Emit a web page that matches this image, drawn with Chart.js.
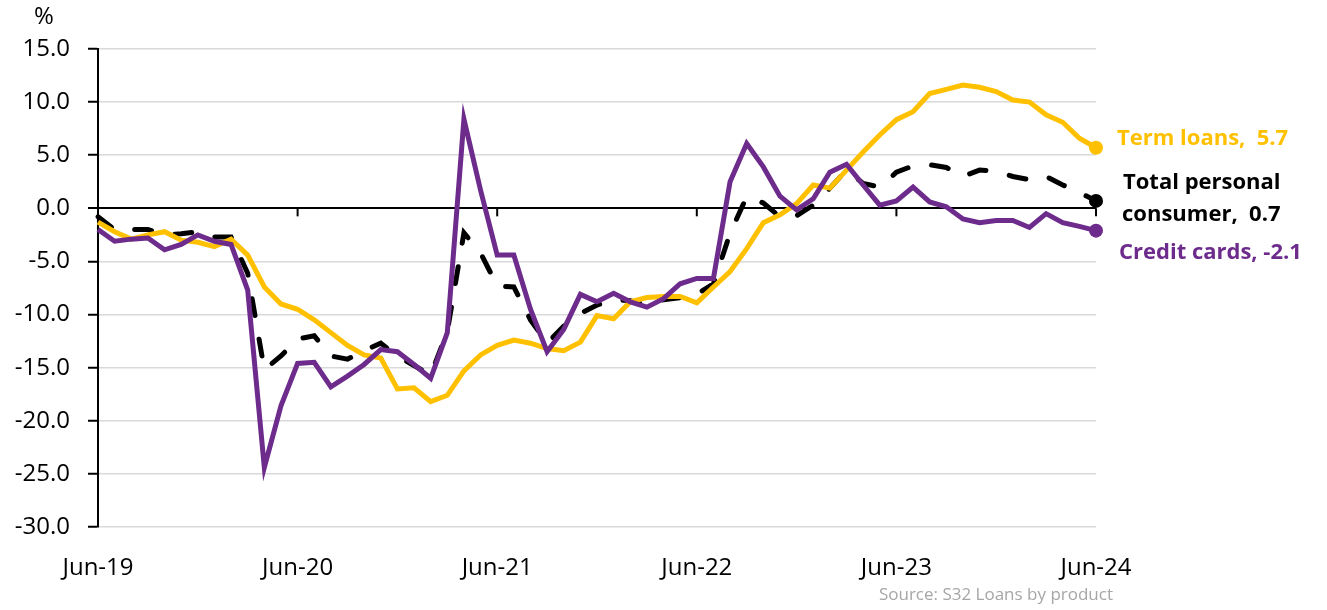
<!DOCTYPE html>
<html>
<head>
<meta charset="utf-8">
<script src="https://cdn.jsdelivr.net/npm/chart.js@4"></script>
<style>
  body { margin: 0; background: #fff; }
  #wrap { width: 1327px; height: 610px; }
</style>
</head>
<body>
<div id="wrap"><canvas id="loanChart" width="1327" height="610"></canvas></div>
<script>
// monthly growth, Jun-19 .. Jun-24
const monthNames = ["Jan", "Feb", "Mar", "Apr", "May", "Jun", "Jul", "Aug", "Sep", "Oct", "Nov", "Dec"];
const months = [];
for (let k = 0; k <= 60; k++) {
  const m = (5 + k) % 12;
  const yr = 19 + Math.floor((5 + k) / 12);
  months.push(monthNames[m] + "-" + yr);
}

const termLoans = [
  -1.3, -2.2, -2.9, -2.5, -2.2, -3.0, -3.2, -3.6, -2.9, -4.4,
  -7.4, -9.0, -9.5, -10.5, -11.7, -12.9, -13.8, -14.1, -17.0, -16.9,
  -18.2, -17.6, -15.3, -13.8, -12.9, -12.4, -12.7, -13.2, -13.4, -12.6,
  -10.1, -10.4, -8.8, -8.4, -8.3, -8.3, -8.9, -7.4, -5.95, -3.8,
  -1.35, -0.6, 0.45, 2.2, 1.9, 3.6, 5.3, 6.9, 8.35, 9.1,
  10.8, 11.2, 11.6, 11.4, 11.0, 10.2, 10.0, 8.8, 8.1, 6.6,
  5.7
];
const totalConsumer = [
  -0.8, -2.0, -2.0, -2.0, -2.5, -2.4, -2.2, -2.7, -2.7, -6.1,
  -15.2, -13.9, -12.3, -12.0, -13.9, -14.2, -13.4, -12.7, -13.9, -14.8,
  -15.7, -11.6, -2.3, -4.2, -7.3, -7.4, -10.5, -12.7, -11.1, -9.9,
  -9.1, -8.6, -8.7, -9.1, -8.6, -8.4, -8.1, -7.1, -2.35, 1.1,
  0.5, -0.8, -0.7, 0.3, 1.9, 3.6, 2.35, 2.0, 3.4, 4.0,
  4.1, 3.85, 3.0, 3.6, 3.5, 3.0, 2.7, 3.0, 2.2, 1.5,
  0.7
];
const creditCards = [
  -2.0, -3.1, -2.9, -2.8, -3.9, -3.4, -2.5, -3.1, -3.4, -7.7,
  -24.4, -18.6, -14.6, -14.5, -16.8, -15.8, -14.7, -13.3, -13.5, -14.7,
  -16.0, -11.7, 8.4, 1.7, -4.4, -4.4, -9.5, -13.5, -11.4, -8.1,
  -8.8, -8.0, -8.8, -9.3, -8.5, -7.1, -6.6, -6.6, 2.5, 6.1,
  3.9, 1.15, -0.15, 0.9, 3.4, 4.15, 2.2, 0.3, 0.7, 2.0,
  0.6, 0.15, -1.0, -1.35, -1.15, -1.15, -1.8, -0.5, -1.35, -1.7,
  -2.1
];
const yTicks = { min: -30, max: 15, step: 5 };

const YELLOW = "#FFC000";
const PURPLE = "#6D2B8C";
const FONT = "'Open Sans', 'Noto Sans', sans-serif";
const last = months.length - 1;

function endDot(ctx) {
  return ctx.dataIndex === last ? 7 : 0;
}

// % label, zero-line ticks, end labels, source
const extras = {
  id: "extras",
  beforeDatasetsDraw(chart) {
    const { ctx, scales } = chart;
    const y0 = scales.y.getPixelForValue(0);
    ctx.save();
    ctx.strokeStyle = "#000";
    ctx.lineWidth = 2;
    months.forEach((m, i) => {
      if (i % 12 !== 0) return;
      const x = scales.x.getPixelForValue(i);
      ctx.beginPath();
      ctx.moveTo(x, y0);
      ctx.lineTo(x, y0 + 8);
      ctx.stroke();
    });
    ctx.restore();
  },
  afterDraw(chart) {
    const { ctx } = chart;
    const pt = (d) => chart.getDatasetMeta(d).data[last];
    const term = pt(1), total = pt(2), cards = pt(0);
    ctx.save();
    ctx.textBaseline = "middle";
    ctx.textAlign = "left";
    ctx.font = "24px " + FONT;
    ctx.fillStyle = "#000";
    ctx.fillText("%", 34, 17);

    ctx.font = "bold 22px " + FONT;
    ctx.fillStyle = YELLOW;
    ctx.fillText("Term loans,  5.7", term.x + 21, term.y - 9);
    ctx.fillStyle = "#000";
    ctx.fillText("Total personal", total.x + 27, total.y - 18);
    ctx.fillText("consumer,  0.7", total.x + 26, total.y + 14);
    ctx.fillStyle = PURPLE;
    ctx.fillText("Credit cards, -2.1", cards.x + 23, cards.y + 22);

    ctx.font = "17px " + FONT;
    ctx.fillStyle = "#A6A6A6";
    ctx.textAlign = "right";
    ctx.fillText("Source: S32 Loans by product", 1113, 595);
    ctx.restore();
  }
};

const chartCtx = document.getElementById("loanChart");
window.myLoanChart = new Chart(chartCtx, {
  type: "line",
  data: {
    labels: months,
    datasets: [
      {
        label: "Credit cards",
        data: creditCards,
        borderColor: PURPLE,
        backgroundColor: PURPLE,
        borderWidth: 5,
        pointRadius: endDot,
        pointBorderWidth: 0,
        tension: 0,
      },
      {
        label: "Term loans",
        data: termLoans,
        borderColor: YELLOW,
        backgroundColor: YELLOW,
        borderWidth: 5,
        pointRadius: endDot,
        pointBorderWidth: 0,
        tension: 0,
      },
      {
        label: "Total personal consumer",
        data: totalConsumer,
        borderColor: "#000",
        backgroundColor: "#000",
        borderWidth: 5,
        borderDash: [17, 24],
        borderCapStyle: "round",
        pointRadius: endDot,
        pointBorderWidth: 0,
        tension: 0,
      },
    ],
  },
  options: {
    responsive: false,
    animation: false,
    layout: { padding: { top: 49, right: 231, bottom: 0, left: 10 } },
    plugins: {
      legend: { display: false },
      tooltip: { enabled: false },
    },
    scales: {
      x: {
        offset: false,
        grid: { display: false, drawTicks: false },
        border: { display: false },
        ticks: {
          autoSkip: false,
          maxRotation: 0,
          padding: 27,
          color: "#000",
          font: { family: FONT, size: 24 },
          callback: (v, i) => (i % 12 === 0 ? months[i] : ""),
        },
        afterFit: (s) => { s.height = 83; },
      },
      y: {
        min: yTicks.min,
        max: yTicks.max,
        grid: {
          color: (c) => (c.tick && c.tick.value === 0 ? "#000" : "#D9D9D9"),
          lineWidth: (c) => (c.tick && c.tick.value === 0 ? 2 : 1.5),
          tickColor: "#000",
          tickLength: 10,
          tickWidth: 2,
        },
        border: { display: true, color: "#000", width: 2 },
        ticks: {
          stepSize: yTicks.step,
          padding: 18,
          color: "#000",
          font: { family: FONT, size: 24 },
          callback: (v) => v.toFixed(1),
        },
        afterFit: (s) => { s.width = 88; },
      },
    },
  },
  plugins: [extras],
});
</script>
</body>
</html>
